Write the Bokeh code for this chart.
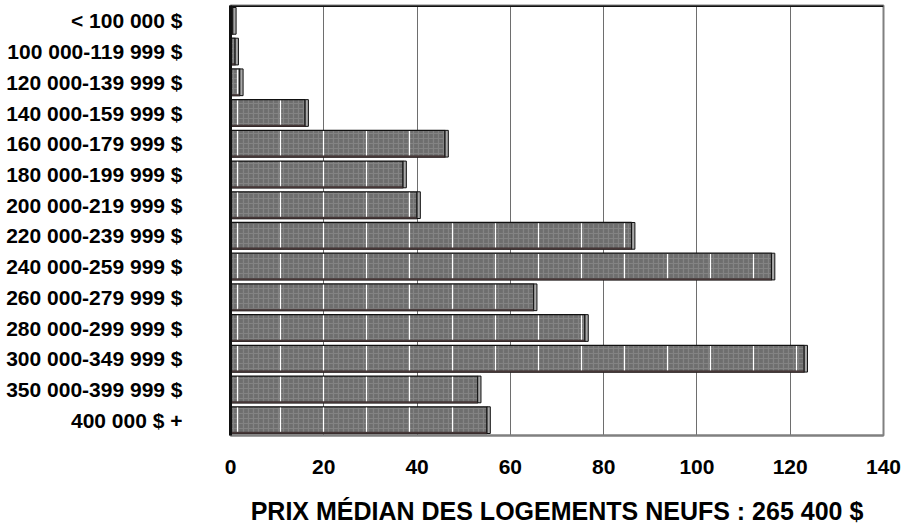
from bokeh.plotting import figure
from bokeh.models import FactorRange, Range1d, FixedTicker, ColumnDataSource, Span
from bokeh.transform import dodge
from bokeh.embed import file_html
from bokeh.resources import INLINE

categories = [
    "< 100 000 $",
    "100 000-119 999 $",
    "120 000-139 999 $",
    "140 000-159 999 $",
    "160 000-179 999 $",
    "180 000-199 999 $",
    "200 000-219 999 $",
    "220 000-239 999 $",
    "240 000-259 999 $",
    "260 000-279 999 $",
    "280 000-299 999 $",
    "300 000-349 999 $",
    "350 000-399 999 $",
    "400 000 $ +",
]
counts = [0.5, 1, 2, 16, 46, 37, 40, 86, 116, 65, 76, 123, 53, 55]
x_ticks = [0, 20, 40, 60, 80, 100, 120, 140]
title_text = "PRIX MÉDIAN DES LOGEMENTS NEUFS : 265 400 $"

SIDE = 0.7  # depth of the 3D side face, in data units
FONT = "Liberation Sans"

src = ColumnDataSource(dict(
    cat=categories,
    val=counts,
    side_right=[c + SIDE for c in counts],
))

p = figure(
    width=905, height=528,
    y_range=FactorRange(factors=list(reversed(categories))),
    x_range=Range1d(0, 140),
    output_backend="svg", toolbar_location=None,
    min_border_left=230, min_border_right=22,
    min_border_top=5, min_border_bottom=93,
)
p.background_fill_color = "white"
p.border_fill_color = "white"
p.outline_line_color = "#808080"
p.outline_line_width = 2

# grid
p.ygrid.grid_line_color = None
p.xgrid.grid_line_color = "#6e6e6e"
p.xgrid.grid_line_width = 1
p.xaxis.ticker = FixedTicker(ticks=x_ticks)

# bars: body
p.hbar(y="cat", left=0, right="val", height=0.87, source=src,
       fill_color="#6e6e6e", line_color="#111111", line_width=1.3,
       hatch_pattern="cross", hatch_scale=5, hatch_weight=1.2,
       hatch_color="#838383")
# white vertical texture lines
p.hbar(y="cat", left=0, right="val", height=0.82, source=src,
       fill_color=None, line_color=None,
       hatch_pattern="vertical_line", hatch_scale=43, hatch_weight=1.2,
       hatch_color="white")
# dark bottom edge
p.hbar(y=dodge("cat", -0.415, range=p.y_range), left=0, right="val",
       height=0.05, source=src, fill_color="#4b3b3b", line_color="#3a2e2e",
       line_width=0.5)
# 3D side face
p.hbar(y="cat", left="val", right="side_right", height=0.87, source=src,
       fill_color="#a8a8a8", line_color="#111111", line_width=1)

# top border
p.add_layout(Span(location=len(categories), dimension="width",
                  line_color="#111111", line_width=3))

# axes
p.yaxis.axis_line_color = "#111111"
p.yaxis.axis_line_width = 3
p.yaxis.major_tick_line_color = None
p.yaxis.minor_tick_line_color = None
p.yaxis.major_label_standoff = 42
p.yaxis.major_label_text_font = FONT
p.yaxis.major_label_text_font_style = "bold"
p.yaxis.major_label_text_font_size = "21px"
p.yaxis.major_label_text_color = "black"

xax = p.xaxis[0]
xax.axis_line_color = "#808080"
xax.axis_line_width = 2
xax.major_tick_line_color = None
xax.minor_tick_line_color = None
xax.major_tick_out = 0
xax.major_tick_in = 0
xax.major_label_standoff = 24
xax.major_label_text_font = FONT
xax.major_label_text_font_style = "bold"
xax.major_label_text_font_size = "21px"
xax.major_label_text_color = "black"

# caption under the chart, as the x-axis label
xax.axis_label = title_text
xax.axis_label_standoff = 20
xax.axis_label_text_font = FONT
xax.axis_label_text_font_style = "bold"
xax.axis_label_text_font_size = "25px"
xax.axis_label_text_color = "black"

open("out.html", "w").write(file_html(p, INLINE))
